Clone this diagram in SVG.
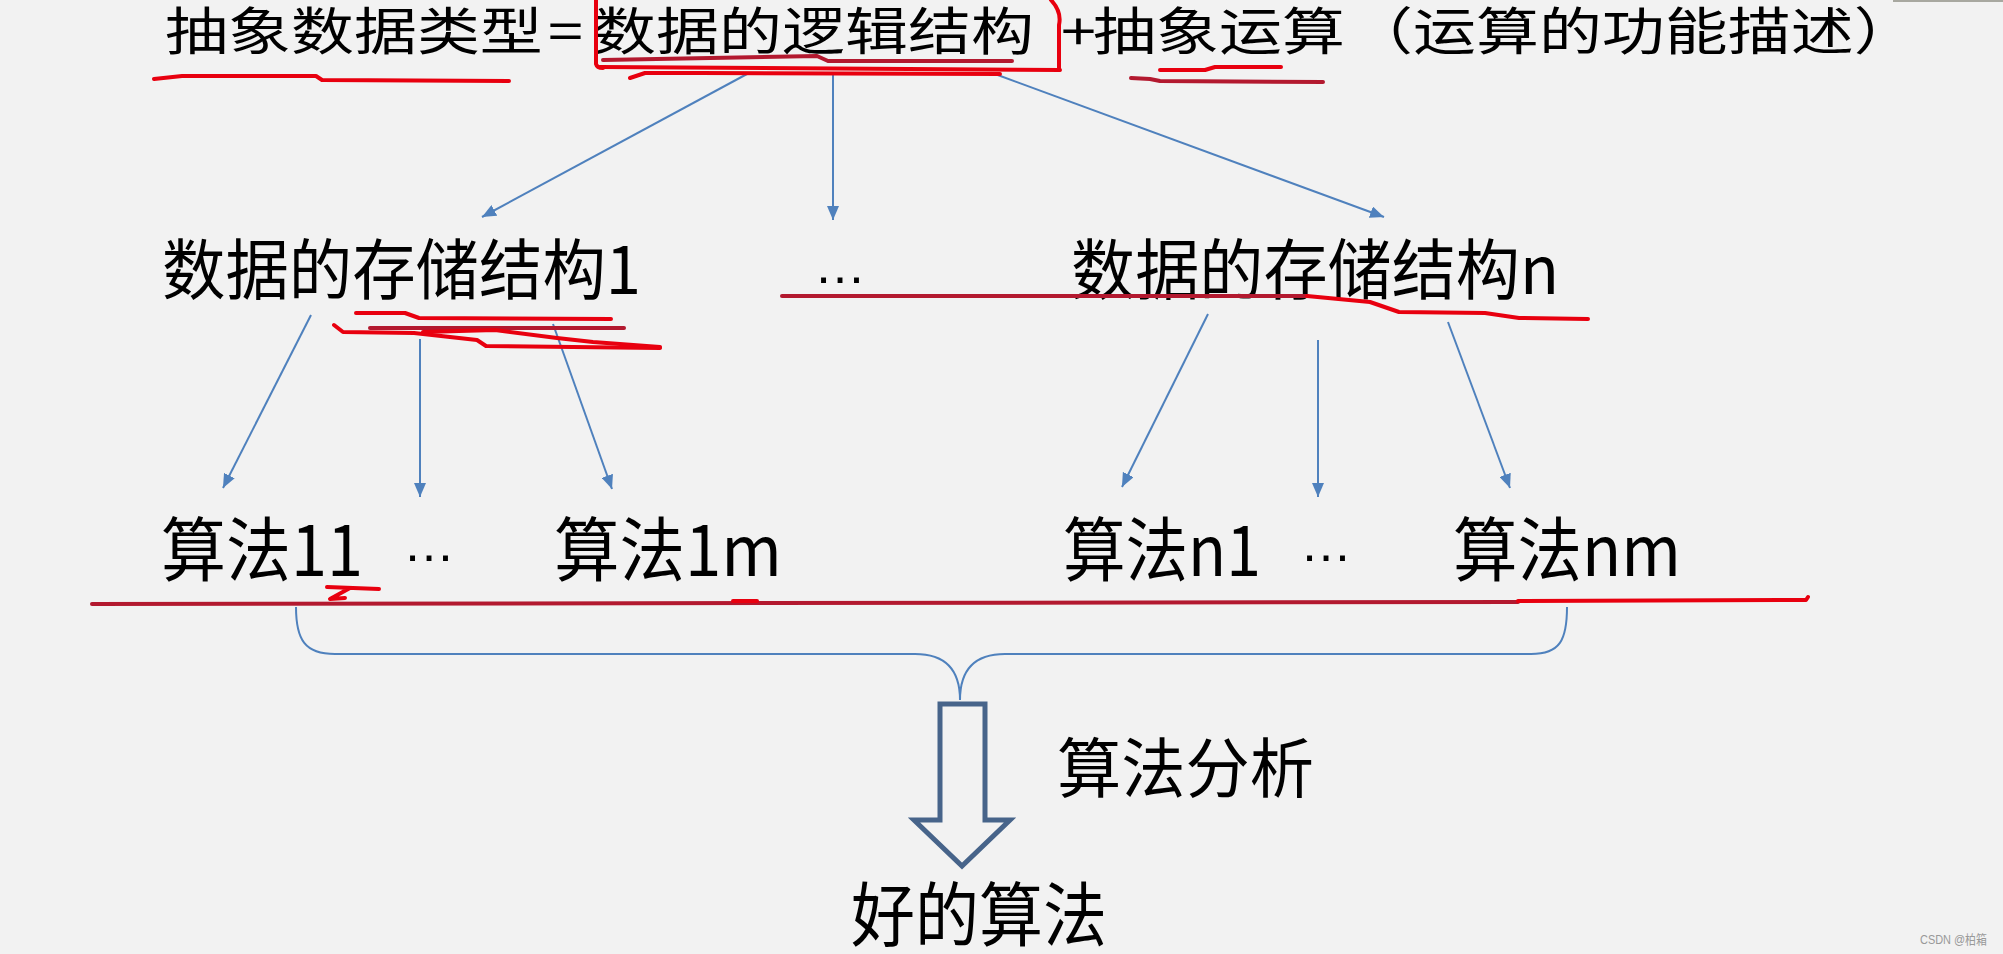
<svg xmlns="http://www.w3.org/2000/svg" width="2003" height="954" viewBox="0 0 2003 954">
<style>
.t{font-family:"Noto Sans CJK SC","Liberation Sans",sans-serif;fill:#000}
.el{font-family:"Liberation Sans",sans-serif;fill:#000;text-anchor:middle}
.c{stroke:#4f81bd;stroke-width:2;fill:none}
.r{stroke:#e8000f;stroke-width:4;fill:none;stroke-linecap:round;stroke-linejoin:round}
.rd{stroke:#b3192f;stroke-width:4;fill:none;stroke-linecap:round;stroke-linejoin:round}
</style>
<defs>
<marker id="ah" viewBox="0 0 14 12" refX="14" refY="6" markerWidth="14" markerHeight="12" markerUnits="userSpaceOnUse" orient="auto">
<path d="M0,0 L14,6 L0,12 z" fill="#4f81bd"/>
</marker>
</defs>
<rect x="0" y="0" width="2003" height="954" fill="#f2f2f2"/>
<rect x="1893" y="0" width="110" height="2" fill="#a8a8a0"/>

<g id="title">
<text class="t" font-size="51" transform="scale(1.235,1)" y="50"><tspan x="133.6">抽象数据类型</tspan><tspan x="443.8">=</tspan><tspan x="480.2">数据的逻辑结构</tspan><tspan x="859.1">+</tspan><tspan x="885">抽象运算</tspan><tspan x="1093.1">（运算的功能描述）</tspan></text>
</g>

<g id="storage1"><text class="t" x="162" y="294" font-size="66" textLength="479" lengthAdjust="spacingAndGlyphs">数据的存储结构1</text></g>
<g id="storage-dots"><text class="el" x="840" y="283" font-size="52">…</text></g>
<g id="storagen"><text class="t" x="1071" y="294" font-size="66" textLength="488" lengthAdjust="spacingAndGlyphs">数据的存储结构n</text></g>

<g id="alg11"><text class="t" x="161" y="576" font-size="70" textLength="202" lengthAdjust="spacingAndGlyphs">算法11</text></g>
<g id="alg1-dots"><text class="el" x="429" y="561" font-size="52">…</text></g>
<g id="alg1m"><text class="t" x="554" y="576" font-size="70" textLength="228" lengthAdjust="spacingAndGlyphs">算法1m</text></g>
<g id="algn1"><text class="t" x="1063" y="576" font-size="70" textLength="198" lengthAdjust="spacingAndGlyphs">算法n1</text></g>
<g id="algn-dots"><text class="el" x="1326" y="561" font-size="52">…</text></g>
<g id="algnm"><text class="t" x="1453" y="576" font-size="70" textLength="228" lengthAdjust="spacingAndGlyphs">算法nm</text></g>

<g id="analysis"><text class="t" x="1057" y="792" font-size="65" textLength="257" lengthAdjust="spacingAndGlyphs">算法分析</text></g>
<g id="good"><text class="t" x="851" y="941" font-size="70" textLength="256" lengthAdjust="spacingAndGlyphs">好的算法</text></g>

<g id="connectors">
<line class="c" x1="747" y1="74" x2="482" y2="217" marker-end="url(#ah)"/>
<line class="c" x1="833" y1="73" x2="833" y2="220" marker-end="url(#ah)"/>
<line class="c" x1="995" y1="74" x2="1384" y2="217" marker-end="url(#ah)"/>
<line class="c" x1="311" y1="315" x2="223" y2="488" marker-end="url(#ah)"/>
<line class="c" x1="420" y1="339" x2="420" y2="497" marker-end="url(#ah)"/>
<line class="c" x1="553" y1="324" x2="612" y2="489" marker-end="url(#ah)"/>
<line class="c" x1="1208" y1="314" x2="1122" y2="487" marker-end="url(#ah)"/>
<line class="c" x1="1318" y1="340" x2="1318" y2="497" marker-end="url(#ah)"/>
<line class="c" x1="1448" y1="322" x2="1510" y2="488" marker-end="url(#ah)"/>
<path id="brace" class="c" d="M296,607 C296,640 305,654 335,654 L915,654 C950,654 960,675 960,700 C960,675 970,654 1005,654 L1531,654 C1560,654 1567,640 1567,607"/>
</g>

<g id="block-arrow">
<path d="M940,704 L985,704 L985,820 L1010,820 L962,866 L914,820 L940,820 Z" fill="#f2f2f2" stroke="#47648a" stroke-width="5" stroke-linejoin="miter"/>
</g>

<g id="annotations">
<path class="r" d="M154,79 L182,76 L316,76 L322,80 L509,81"/>
<path class="r" d="M596,0 L596,64 Q597,68 603,68"/>
<path class="r" stroke-width="7" d="M600,67 L1060,70"/>
<path class="rd" d="M603,60 L817,56 L828,61 L1012,61"/>
<path class="r" d="M630,78 L645,73 L700,73 L1000,74"/>
<path class="r" d="M1051,0 Q1062,12 1059,25 L1059,70"/>
<path class="r" d="M1160,70 L1205,70 L1215,67 L1281,67"/>
<path class="rd" d="M1131,78 L1150,79 L1160,81 L1323,82"/>
<path class="r" d="M356,313 L405,313 L419,318 L611,319"/>
<path class="r" d="M334,325 L343,332 L414,333 L477,340 L486,346 L660,348"/>
<path class="rd" d="M370,328 L624,328"/>
<path class="r" d="M423,332 L495,330 L557,338 L593,342 L660,347"/>
<path class="rd" d="M782,296 L1307,296"/>
<path class="r" d="M1307,296 L1370,302 L1399,312 L1485,313 L1519,318 L1588,319"/>
<path class="rd" d="M92,604 L1518,602"/>
<path class="r" d="M1518,601 L1806,600 L1808,597"/>
<path class="r" d="M327,587 L379,589 M350,588 L330,599 L345,598"/>
<path class="r" d="M733,601 L757,601"/>
</g>

<g id="watermark"><text x="1920" y="944" font-family="Liberation Sans,Noto Sans CJK SC,sans-serif" font-size="13" fill="#999" textLength="67" lengthAdjust="spacingAndGlyphs">CSDN @柏箱</text></g>
</svg>
